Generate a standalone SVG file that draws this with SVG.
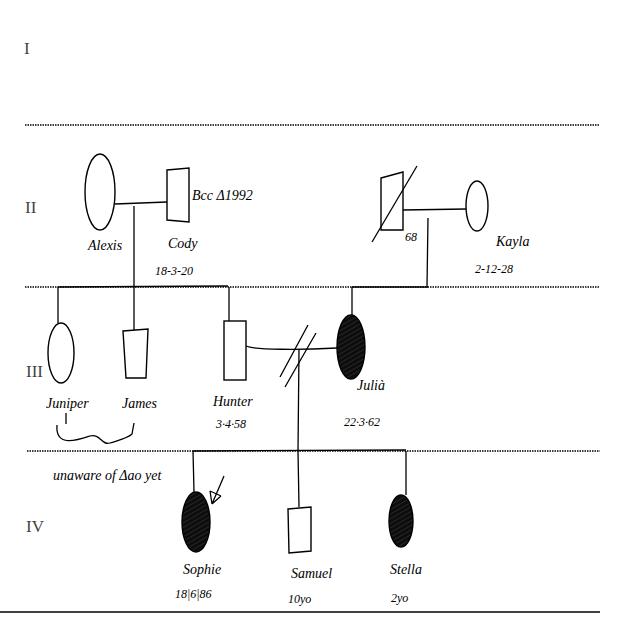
<svg xmlns="http://www.w3.org/2000/svg" width="640" height="640" viewBox="0 0 640 640">
<defs>
<style>
.ln{stroke:#000;stroke-width:1.3;fill:none}
.dot{stroke:#000;stroke-width:1.6;stroke-dasharray:1.5 1;fill:none}
.sh{stroke:#000;stroke-width:1.4;fill:#fff}
.aff{stroke:#000;stroke-width:1.4;fill:url(#hatch)}
.gen{font-family:"Liberation Serif",serif;font-size:17px;fill:#444}
.lab{font-family:"Liberation Serif",serif;font-style:italic;font-size:14px;fill:#000}
.num{font-family:"Liberation Serif",serif;font-style:italic;font-size:12px;fill:#000}
</style>
<pattern id="hatch" patternUnits="userSpaceOnUse" width="4" height="4" patternTransform="rotate(60)">
<rect width="4" height="4" fill="#0d0d0d"/>
<line x1="0" y1="0" x2="0" y2="4" stroke="#555" stroke-width="0.7"/>
</pattern>
</defs>
<rect width="640" height="640" fill="#fff"/>

<g id="generation-lines">
<line class="dot" x1="25" y1="125" x2="600" y2="125"/>
<line class="dot" x1="25" y1="287" x2="600" y2="287"/>
<line class="dot" x1="27" y1="451" x2="600" y2="451"/>
<line class="ln" x1="0" y1="612" x2="600" y2="612"/>
</g>

<g id="generation-labels">
<text class="gen" x="24" y="54">I</text>
<text class="gen" x="25" y="213">II</text>
<text class="gen" x="26" y="377">III</text>
<text class="gen" x="26" y="532">IV</text>
</g>

<g id="connectors">
<path class="ln" d="M115 204 L167 202"/>
<path class="ln" d="M134 206 L134 287"/>
<path class="ln" d="M58 287 L228 286"/>
<path class="ln" d="M58 287 L58 323"/>
<path class="ln" d="M134 287 L134 333"/>
<path class="ln" d="M229 287 L229 321"/>
<path class="ln" d="M403 210 L466 209"/>
<path class="ln" d="M428 218 L427 287"/>
<path class="ln" d="M352 287 L428 287"/>
<path class="ln" d="M352 287 L352 315"/>
<path class="ln" d="M246 346 C255 350 300 350 337 348"/>
<path class="ln" d="M280 377 L308 325 M285 387 L316 333"/>
<path class="ln" d="M299 349 L298 451"/>
<path class="ln" d="M193 451 L406 450"/>
<path class="ln" d="M193 451 L194 492"/>
<path class="ln" d="M298 451 L299 507"/>
<path class="ln" d="M406 451 L406 495"/>
</g>

<g id="alexis">
<ellipse class="sh" cx="100" cy="192" rx="15" ry="38"/>
<text class="lab" x="88" y="250">Alexis</text>
</g>
<g id="cody">
<path class="sh" d="M167 170 L189 168 L189 222 L167 220 Z"/>
<text class="lab" x="192" y="200">Bcc Δ1992</text>
<text class="lab" x="168" y="248">Cody</text>
<text class="num" x="155" y="275">18-3-20</text>
</g>
<g id="deceased-male">
<path class="sh" d="M381 178 L403 172 L403 230 L381 230 Z"/>
<line class="ln" x1="372" y1="242" x2="417" y2="166"/>
<text class="num" x="405" y="241">68</text>
</g>
<g id="kayla">
<ellipse class="sh" cx="477" cy="206" rx="11" ry="25"/>
<text class="lab" x="496" y="246">Kayla</text>
<text class="num" x="475" y="273">2-12-28</text>
</g>
<g id="juniper">
<ellipse class="sh" cx="61" cy="353" rx="13" ry="30"/>
<text class="lab" x="46" y="408">Juniper</text>
</g>
<g id="james">
<path class="sh" d="M123 331 L148 329 L146 378 L126 378 Z"/>
<text class="lab" x="122" y="408">James</text>
</g>
<g id="note">
<path class="ln" d="M57 425 C55 448 78 440 90 436 C100 433 102 446 110 443 C120 440 128 438 132 434 L134 423"/>
<line class="ln" x1="66" y1="424" x2="66" y2="413"/>
<text class="lab" x="53" y="480">unaware of Δao yet</text>
</g>
<g id="hunter">
<rect class="sh" x="224" y="321" width="22" height="59"/>
<text class="lab" x="213" y="406">Hunter</text>
<text class="num" x="216" y="428">3·4·58</text>
</g>
<g id="julia">
<ellipse class="aff" cx="351" cy="347" rx="14" ry="32"/>
<text class="lab" x="357" y="390">Julià</text>
<text class="num" x="344" y="426">22·3·62</text>
</g>
<g id="sophie">
<ellipse class="aff" cx="196" cy="522" rx="14" ry="30"/>
<path class="ln" d="M224 476 L212 504 M212 504 L210 491 M212 504 L221 496 M210 491 L221 496"/>
<text class="lab" x="183" y="574">Sophie</text>
<text class="num" x="175" y="598">18|6|86</text>
</g>
<g id="samuel">
<path class="sh" d="M288 509 L311 507 L311 551 L289 553 Z"/>
<text class="lab" x="291" y="578">Samuel</text>
<text class="num" x="288" y="603">10yo</text>
</g>
<g id="stella">
<ellipse class="aff" cx="401" cy="521" rx="12" ry="26"/>
<text class="lab" x="390" y="574">Stella</text>
<text class="num" x="391" y="602">2yo</text>
</g>
</svg>
